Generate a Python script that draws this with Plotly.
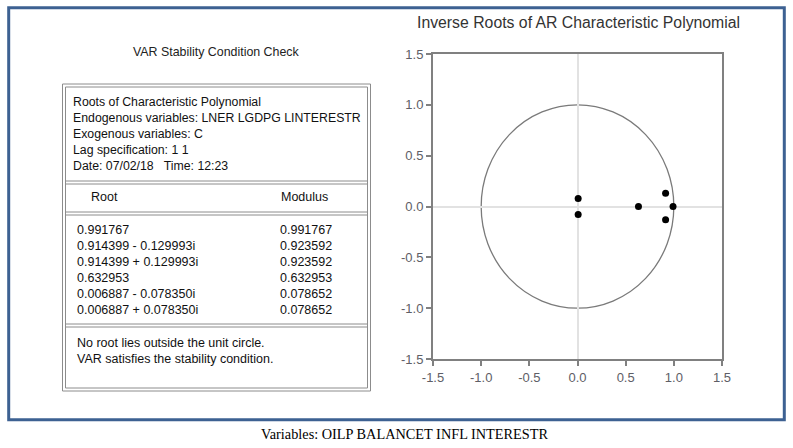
import plotly.graph_objects as go

W, H = 793, 448

# ---- data ----
root_real = [0.991767, 0.914399, 0.914399, 0.632953, 0.006887, 0.006887]
root_imag = [0.0, -0.129993, 0.129993, 0.0, -0.078350, 0.078350]
modulus = [0.991767, 0.923592, 0.923592, 0.632953, 0.078652, 0.078652]

header_lines = [
    "Roots of Characteristic Polynomial",
    "Endogenous variables: LNER LGDPG LINTERESTR",
    "Exogenous variables: C",
    "Lag specification: 1 1",
    "Date: 07/02/18   Time: 12:23",
]
footer_lines = [
    "No root lies outside the unit circle.",
    "VAR satisfies the stability condition.",
]
tick_vals = [-1.5, -1.0, -0.5, 0.0, 0.5, 1.0, 1.5]
tick_text = ["-1.5", "-1.0", "-0.5", "0.0", "0.5", "1.0", "1.5"]
chart_title = "Inverse Roots of AR Characteristic Polynomial"
table_title = "VAR Stability Condition Check"
caption = "Variables: OILP BALANCET INFL INTERESTR"


def fx(x):
    return x / W


def fy(y):
    return 1 - y / H


def root_str(re, im):
    if im == 0:
        return f"{re:.6f}"
    sign = "-" if im < 0 else "+"
    return f"{re:.6f} {sign} {abs(im):.6f}i"


FONT = "Liberation Sans, Arial, sans-serif"

fig = go.Figure()
fig.add_trace(go.Scatter(
    x=root_real, y=root_imag, mode="markers",
    marker=dict(color="black", size=7),
    showlegend=False, hoverinfo="x+y",
))

shapes = []
annotations = []

# outer blue frame
shapes.append(dict(type="rect", xref="paper", yref="paper",
                   x0=fx(8.7), x1=fx(784.3), y0=fy(419.7), y1=fy(7.7),
                   line=dict(color="#3D6192", width=3)))

# table double box
for off in (0, 3):
    shapes.append(dict(type="rect", xref="paper", yref="paper",
                       x0=fx(62.5 + off), x1=fx(370.5 - off),
                       y0=fy(391 - off), y1=fy(84 + off),
                       line=dict(color="#8c8c8c", width=1)))
for yy in (181, 184, 212, 215, 324, 327):
    shapes.append(dict(type="line", xref="paper", yref="paper",
                       x0=fx(65.5), x1=fx(367.5), y0=fy(yy), y1=fy(yy),
                       line=dict(color="#8c8c8c", width=1)))

# unit circle in data coordinates
shapes.append(dict(type="circle", xref="x", yref="y", x0=-1, x1=1, y0=-1, y1=1,
                   line=dict(color="#7a7a7a", width=1.3), layer="below"))


def text(x, y, s, size=12, color="#111", anchor="left", family=FONT):
    annotations.append(dict(xref="paper", yref="paper", x=fx(x), y=fy(y),
                            text=s, showarrow=False, xanchor=anchor,
                            yanchor="middle",
                            font=dict(family=family, size=size, color=color)))


text(216, 52, table_title, size=12.4, color="#222", anchor="center")
for i, s in enumerate(header_lines):
    text(71, 101.5 + i * 16.2, s, size=12.3)
text(89, 197, "Root", size=12.5)
text(279, 197, "Modulus", size=12.5)
for i, (re, im, m) in enumerate(zip(root_real, root_imag, modulus)):
    yy = 230 + i * 16
    text(74.5, yy, root_str(re, im), size=12.5)
    text(277.5, yy, f"{m:.6f}", size=12.5)
for i, s in enumerate(footer_lines):
    text(74.5, 343 + i * 15.5, s, size=12.5)

text(578, 22.5, chart_title, size=15.8, color="#333", anchor="center")
text(404.5, 434, caption, size=14.3, color="#000", anchor="center",
     family="Liberation Serif, Times New Roman, serif")

axis_common = dict(
    range=[-1.5, 1.5], tickvals=tick_vals, ticktext=tick_text,
    showgrid=False, zeroline=True, zerolinecolor="#e2e2e2", zerolinewidth=1.5,
    showline=True, linecolor="#808080", linewidth=2, mirror=True,
    ticks="outside", ticklen=5, tickwidth=1.5, tickcolor="#808080",
    tickfont=dict(family=FONT, size=13, color="#5e5e66"),
    fixedrange=True, automargin=False,
)

fig.update_layout(
    template="none",
    width=W, height=H,
    margin=dict(l=0, r=0, t=0, b=0, pad=0, autoexpand=False),
    paper_bgcolor="white", plot_bgcolor="white",
    xaxis=dict(domain=[fx(433), fx(722)], **axis_common),
    yaxis=dict(domain=[fy(359), fy(54)], **axis_common),
    shapes=shapes, annotations=annotations,
    showlegend=False,
)

fig.write_html(
    "out.html",
    config={"displayModeBar": False},
    post_script="document.body.style.margin='0';document.body.style.overflow='hidden';",
)
